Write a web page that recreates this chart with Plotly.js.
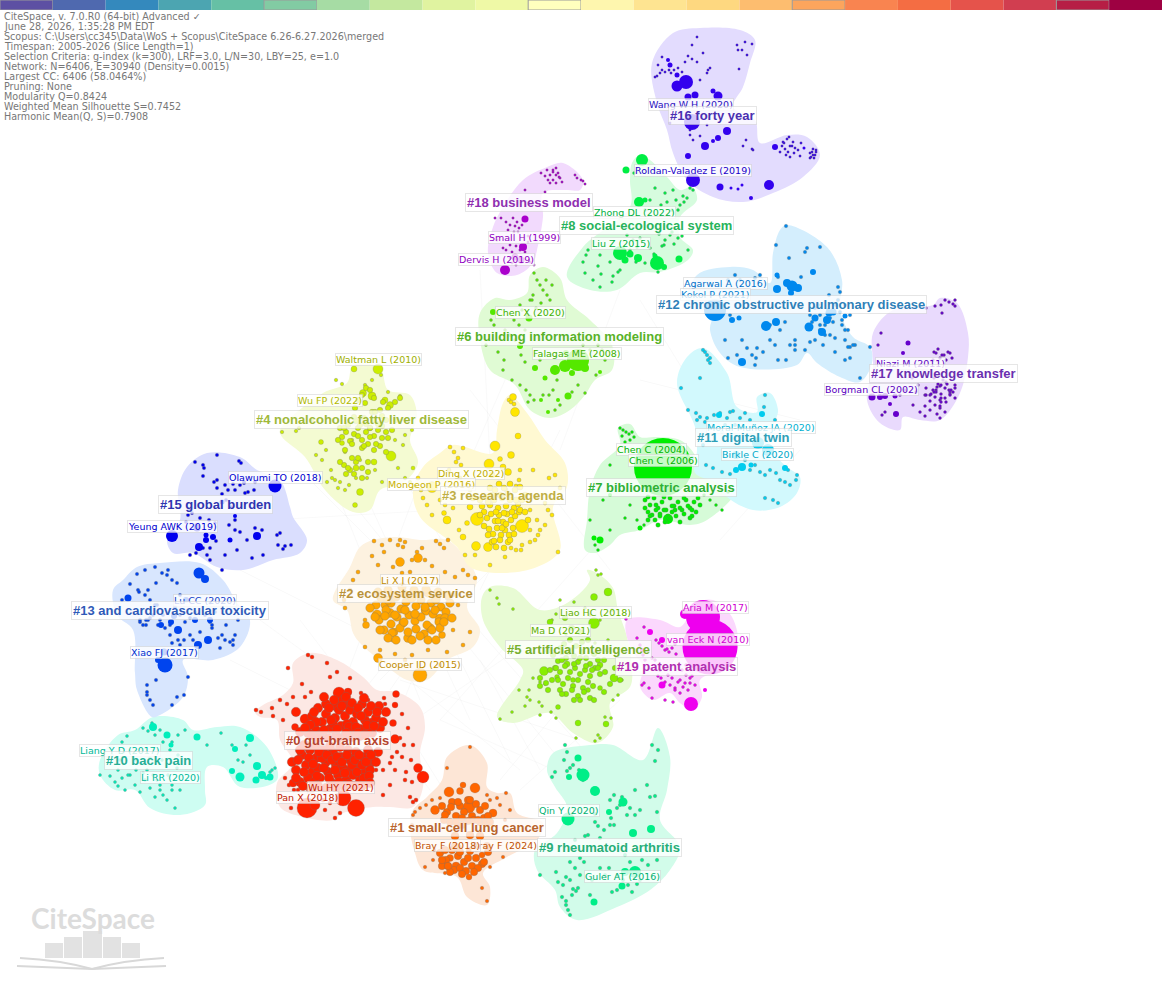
<!DOCTYPE html>
<html>
<head>
<meta charset="utf-8">
<script src="https://cdn.plot.ly/plotly-3.0.1.min.js"></script>
<style>html,body{margin:0;padding:0;background:#fff}</style>
</head>
<body>
<div id="chart" style="width:1162px;height:982px"></div>
<script>
const years = [2005,2006,2007,2008,2009,2010,2011,2012,2013,2014,2015,2016,2017,2018,2019,2020,2021,2022,2023,2024,2025,2026];
const yearColors = ['#5d50a3','#4f69af','#3489bd','#4ca5b1','#66c0a5','#82cba3','#a6dca4','#c4e89f','#e0f3a0','#eff9a6','#ffffbe','#fef6ae','#fee491','#fed880','#fdbd6f','#fca55d','#f98450','#f46d43','#e5534b','#d13e50','#b61e45','#9e0142'];
const markedYears = [2005,2010,2015,2020,2025];

const headerLines = [
  'CiteSpace, v. 7.0.R0 (64-bit) Advanced ✓',
  'June 28, 2026, 1:35:28 PM EDT',
  'Scopus: C:\\Users\\cc345\\Data\\WoS + Scopus\\CiteSpace 6.26-6.27.2026\\merged',
  'Timespan: 2005-2026 (Slice Length=1)',
  'Selection Criteria: g-index (k=300), LRF=3.0, L/N=30, LBY=25, e=1.0',
  'Network: N=6406, E=30940 (Density=0.0015)',
  'Largest CC: 6406 (58.0464%)',
  'Pruning: None',
  'Modularity Q=0.8424',
  'Weighted Mean Silhouette S=0.7452',
  'Harmonic Mean(Q, S)=0.7908'
];

// cluster labels
const clusterNames = ['#0 gut-brain axis','#1 small-cell lung cancer','#2 ecosystem service','#3 research agenda','#4 nonalcoholic fatty liver disease','#5 artificial intelligence','#6 building information modeling','#7 bibliometric analysis','#8 social-ecological system','#9 rheumatoid arthritis','#10 back pain','#11 digital twin','#12 chronic obstructive pulmonary disease','#13 and cardiovascular toxicity','#15 global burden','#16 forty year','#17 knowledge transfer','#18 business model','#19 patent analysis'];
const clusterLabelX = [337,467,406,503,361,578,559,661,646,609,148,743,791,170,215,712,943,529,676];
const clusterLabelY = [740,827,593,495,419,649,336,487,225,847,760,437,304,610,504,115,373,202,666];
const clusterTextColors = ['#b5452f','#b8642d','#b9923a','#bfae45','#9fb93a','#78b030','#58b228','#2fb035','#27b35c','#27ae78','#27ae96','#2f9fb8','#2f7fb8','#2f5ab8','#2f35b0','#4a2fb0','#6a2fb0','#8f2fb0','#b02fb0'];
const nodeColors = ['#ff2200','#ff6600','#ffa500','#ffe600','#ccee00','#88ee00','#55e800','#00ee00','#00ee44','#00ee88','#00eebb','#00ccee','#0088ee','#0044ee','#0000ee','#3300ee','#6600cc','#aa00cc','#ee00ee'];
const hullColors = ['#fce8e4','#fde6d6','#fdf2e0','#fff9d2','#f4fbd2','#e8fbd4','#e0fbd4','#d6fbd8','#d6fcde','#d2fcea','#cefdf2','#d2f9fd','#d4eefd','#d8e6fe','#dadefe','#e3dcfe','#e9dafd','#f2dafd','#fbd8fd'];

// reference labels on nodes
const refNames = ['Wang W H (2020)','Roldan-Valadez E (2019)','Zhong DL (2022)','Liu Z (2015)','Small H (1999)','Dervis H (2019)','Agarwal A (2016)','Kokol P (2021)','Chen X (2020)','Falagas ME (2008)','Waltman L (2010)','Wu FP (2022)','Ding X (2022)','Mongeon P (2016)','Olawumi TO (2018)','Yeung AWK (2019)','Lu CC (2020)','Li X J (2017)','Xiao FJ (2017)','Cooper ID (2015)','Liao HC (2018)','Ma D (2021)','Aria M (2017)','van Eck N (2010)','Chen C (2004)','Chen C (2006)','Moral-Muñoz JA (2020)','Birkle C (2020)','Niazi M (2011)','Borgman CL (2002)','Liang Y D (2017)','Li RR (2020)','Wu HY (2021)','Pan X (2018)','Bray F (2024)','Bray F (2018)','Qin Y (2020)','Guler AT (2016)'];
const refX = [691,693,634,621,524,496,725,715,530,577,378,330,471,431,275,172,205,410,164,420,595,560,715,708,651,663,761,757,910,871,120,170,341,307,504,447,569,622];
const refY = [104,170,212,243,237,259,283,294,312,353,359,400,473,484,477,526,600,580,652,664,612,630,607,639,449,460,427,454,363,389,750,777,787,797,845,845,810,876];
const refColors = ['#2a10c0','#1800c8','#00b040','#00b040','#9000c0','#9000c0','#0070c8','#0080d0','#40b000','#40b000','#a0b000','#b0b800','#c0ac00','#c8b000','#0000d0','#0000d0','#1040c8','#c08c00','#0030d0','#c08c00','#60b000','#60b000','#d000d0','#d000d0','#00b000','#00b000','#00b0d0','#00a8c8','#5a00c0','#5a00c0','#00b898','#00b898','#c02000','#c02000','#c05000','#c05000','#00b070','#00b070'];

// hull outlines
const h0x=[293,310,337,363,377,397,420,425,420,423,413,390,373,343,333,303,280,277,293,280,277,260,255,263,283,293];
const h0y=[663,653,660,677,690,692,707,727,753,787,807,807,807,813,820,817,807,783,763,740,720,717,712,705,695,683];
const h1x=[470,447,442,427,413,410,415,423,457,467,487,490,483,507,537,543,517,510,497,487,487];
const h1y=[745,757,780,797,810,827,853,870,877,897,905,887,873,857,840,823,813,793,793,787,763];
const h2x=[373,397,420,447,467,477,467,480,473,447,427,407,383,360,353,347,333,350,360];
const h2y=[540,537,540,540,560,580,607,630,647,660,680,680,663,643,633,610,600,567,547];
const h3x=[510,527,545,565,567,553,560,537,500,470,457,420,413,423,440,453,493,497,503];
const h3y=[395,413,440,463,487,507,550,567,573,567,547,517,490,467,453,445,453,430,403];
const h4x=[353,380,388,410,417,410,418,403,380,370,353,325,305,282,280,323,347];
const h4y=[365,368,390,395,417,440,463,483,490,510,512,490,457,437,430,393,383];
const h5x=[490,513,540,567,590,587,597,613,618,627,632,630,610,613,597,573,550,513,497,520,523,500,483,482];
const h5y=[587,588,610,603,580,570,573,588,610,637,667,687,703,727,743,733,713,723,717,680,670,647,620,597];
const h6x=[510,527,530,543,560,567,590,612,612,595,585,570,550,530,515,490,480,480,495];
const h6y=[300,293,275,267,278,300,320,345,370,380,395,410,418,410,385,370,340,313,298];
const h7x=[618,630,640,655,680,695,700,735,707,690,660,640,620,610,595,585,587,590,600,620];
const h7y=[428,424,437,437,440,455,470,490,520,525,520,530,535,545,553,550,520,490,465,445];
const h8x=[640,632,630,630,583,567,590,617,640,660,688,693,680,680,697,692,680,667,650];
const h8y=[155,163,180,207,247,277,290,290,273,272,260,250,237,217,200,187,190,177,160];
const h9x=[590,613,643,658,670,667,660,680,670,650,617,577,560,555,537,535,557,567,555,547,553];
const h9y=[745,745,760,728,757,790,820,847,870,890,907,920,907,890,870,850,833,807,787,770,753];
const h10x=[153,183,193,217,240,267,277,240,223,207,205,205,180,150,135,115,100,100,118,135];
const h10y=[717,720,730,727,727,747,780,787,767,767,790,805,815,808,790,790,775,760,735,730];
const h11x=[703,727,737,757,757,770,778,773,770,787,800,797,780,753,727,717,695,697,695,677,687];
const h11y=[348,373,407,412,397,393,410,427,447,467,477,493,507,510,497,483,473,450,427,383,357];
const h12x=[787,827,842,840,853,870,872,860,840,817,807,797,740,720,710,712,687,697,730,753,770,773,780];
const h12y=[225,247,280,310,337,347,363,382,377,363,353,365,367,353,330,313,307,275,267,270,283,253,230];
const h13x=[137,160,200,223,237,250,240,213,183,188,183,160,152,137,135,133,117,113,123];
const h13y=[567,563,563,580,603,620,647,660,660,677,697,715,717,690,673,630,615,590,580];
const h15x=[207,240,257,280,290,293,307,300,273,243,217,193,173,167,180,178,187];
const h15y=[453,457,470,480,507,517,540,553,560,570,567,553,553,540,520,490,467];
const h16x=[652,673,700,740,755,750,743,733,755,760,787,807,820,803,773,743,713,687,673,667,657];
const h16y=[63,33,28,30,40,63,87,107,120,143,135,137,155,177,193,202,197,180,153,130,103];
const h17x=[940,957,968,968,960,940,920,903,900,880,867,873,873,893,933];
const h17y=[298,303,333,357,393,420,420,417,430,423,400,367,333,310,305];
const h18x=[547,563,583,580,567,543,543,537,533,517,497,488,493,503,523];
const h18y=[167,163,180,190,190,193,217,250,263,275,273,253,227,207,180];
const h19x=[627,660,680,697,713,732,738,727,700,702,693,680,670,653,640,643,630];
const h19y=[620,620,627,603,600,617,647,667,680,697,710,703,693,700,687,667,647];

// nodes: big ones with their own size, dense ones, tiny ones
const c0x=[307,356,343,423,418,396,395,339,348,337,349,305,372,393,395,295,315,293,370,330,353];
const c0y=[808,808,798,777,768,694,705,693,692,705,704,719,723,723,739,727,805,783,763,756,758];
const c0s=[20,17,16,12,9,7,6,12,8,13,10,10,10,7,9,7,10,8,10,11,9];
const c0dx=[312,318,322,326,330,334,335,339,341,345,348,350,353,357,360,362,365,368,372,316,308,320,328,336,344,352,360,368,376,380,326,343,333,347,355,316,379,386,300,296,302,306,310,312,316,318,320,323,326,328,331,333,336,338,341,343,346,348,350,353,356,358,360,363,365,368,370,308,314,322,330,340,350,344,354,336,326,296,292,300,372,378,376,316,304,310,314,324,329,331,337,342,346,349,352,356,358,361,364,367,371,374,377,383,305,311,318,324,338,346,358,365,298,304,309,313,317,319,324,327,329,332,335,337,339,342,345,347,349,352,355,357,359,362,364,366,369,371,300,307,296,303,311,318,362,370];
const c0dy=[716,708,722,714,729,700,718,710,726,716,731,710,722,714,729,704,720,712,733,730,733,735,738,735,737,737,736,731,718,728,704,700,724,724,732,722,706,712,732,712,755,765,750,772,758,768,778,750,762,772,782,752,765,775,757,768,780,750,770,775,752,765,780,757,772,750,770,778,782,758,746,747,760,786,786,788,788,770,762,782,760,752,762,746,745,725,712,697,708,720,729,706,697,727,703,727,708,716,698,725,706,726,712,722,728,735,738,730,738,733,733,735,760,772,758,764,776,752,768,755,778,760,770,757,782,762,773,755,784,765,760,772,755,765,778,762,776,755,750,746,778,786,789,786,786,783];
const c0tx=[287,283,273,272,261,256,280,293,305,311,302,288,308,312,327,330,337,350,361,368,385,384,402,400,408,413,404,397,392,411,390,383,402,395,406,376,405,412,416,413,410,390,383,325,340,335,330,323,289,285,294,298,291];
const c0ty=[704,720,716,708,712,710,700,697,697,692,684,668,655,657,663,677,672,678,693,700,704,698,714,738,728,745,745,752,757,760,763,770,757,770,772,770,780,782,800,802,797,785,795,810,813,818,803,800,785,778,790,790,808];

const c1x=[449,475,463,460,469,435,493,456,469,482,450,470,480,455];
const c1y=[792,788,785,791,807,810,813,866,877,855,858,835,836,836];
const c1s=[10,10,6,7,12,9,8,8,6,6,7,8,8,8];
const c1dx=[442,447,452,456,460,464,468,472,476,480,484,488,444,450,456,462,468,474,480,486,490,440,446,452,458,464,470,476,482,488,442,448,454,460,466,472,478,484,450,462,474,458,445,451,458,462,470,478,485,442,448,460,468,476,487,445,455];
const c1dy=[806,812,802,816,806,812,800,816,804,810,818,816,820,822,822,818,821,820,822,822,822,853,860,850,856,862,851,858,864,852,866,866,870,868,871,866,868,862,872,874,872,848,815,807,802,825,800,820,806,860,866,852,858,848,846,850,846];
const c1tx=[470,447,487,506,413,415,482,487,425,433,490,503,517,445,460,420,426,432,505,510,500,497,490,440,434,412];
const c1ty=[747,768,795,793,815,812,888,901,867,860,867,857,843,873,870,808,805,800,820,810,805,798,800,798,850,825];

const c2x=[420,400,418,377,440,408,394,366,442,390,425,378,430,385];
const c2y=[675,562,558,615,619,638,632,625,635,613,610,658,628,605];
const c2s=[14,9,9,10,10,9,8,7,7,9,8,9,9,8];
const c2dx=[376,381,386,391,396,401,406,411,416,421,426,431,436,441,446,379,385,391,397,403,409,415,421,427,433,439,445,384,392,400,408,416,424,432,440,388,396,404,412,420,428,436,395,405,415,425,435,380,388,396,404,412,420,428,436,444,375,370,450,452,378,388,402,414,426,438,448];
const c2dy=[605,598,610,603,597,609,602,596,606,600,611,603,597,607,612,620,616,624,617,623,615,621,617,625,614,622,618,630,633,628,632,629,634,630,628,600,595,594,598,595,593,600,615,610,614,607,610,630,638,640,622,640,636,640,640,622,617,608,603,618,592,590,587,590,589,592,595];
const c2tx=[374,382,390,400,405,398,403,412,417,422,436,440,444,448,372,378,384,393,402,410,425,432,445,455,463,468,475,353,358,345,350,344,365,453,458,470,463,447,453,365,380,392,405,440,447,395,412,428];
const c2ty=[541,545,540,540,542,545,547,560,552,548,541,544,548,540,556,565,552,567,573,572,560,566,572,577,570,575,578,580,572,608,590,600,620,595,605,632,645,598,630,647,650,640,660,665,652,654,655,650];

const c3x=[477,522,515,513,495,511,518,489,488,476,447,432,463,467,508,444,503,492,500];
const c3y=[519,526,412,397,446,455,436,464,547,546,520,487,537,523,472,513,467,475,459];
const c3s=[13,13,9,7,10,7,6,10,9,9,8,11,6,5,7,5,6,6,5];
const c3dx=[486,490,494,498,502,506,510,514,518,487,491,495,499,503,507,511,515,519,489,493,497,501,505,509,513,492,496,500,504,508,470,473,480,484,490,495,499,504,510,515,520,525,488,492,496,500,504,508,512,516,520,488,494,498,502,506,510,514,480,484,482,522,525,528];
const c3dy=[497,505,500,508,498,506,500,508,504,518,514,521,515,522,514,520,516,512,529,534,528,535,530,535,528,542,547,540,548,542,507,498,500,512,488,490,484,488,484,490,487,495,502,495,512,495,513,494,512,500,510,535,541,521,528,524,540,534,515,526,506,500,512,520];
const c3tx=[509,511,514,523,519,516,520,533,549,555,560,536,545,530,537,552,418,421,423,427,432,450,454,458,461,463,456,449,460,440,445,470,453,459,465,475,490,505,511,516,522,530,535,540,545,558,538,548,530,521,506];
const c3ty=[400,402,404,498,480,486,470,470,478,475,488,497,503,510,520,515,478,490,498,505,515,447,452,458,465,448,462,470,478,500,505,490,508,530,555,555,565,557,548,550,545,530,540,530,525,552,535,510,542,550,490];

const c4x=[378,354,372,363,391,390,360,355,374,413,321,385,342,356];
const c4y=[369,369,396,393,456,405,492,505,462,468,442,400,443,468];
const c4s=[10,6,8,7,10,7,7,5,6,4,5,6,5,6];
const c4dx=[342,346,350,354,358,362,366,370,374,378,382,386,366,370,374,378,382,386,362,368,374,380,386,344,350,356,362,368,346,352,358,340,348,356,364,372,380,388,395,400,355,358,362,366,370,374,338,344,352,358,364,370,376,382,388,392,396,360,354,375,383,365,340,348,354,362,368,345];
const c4dy=[437,432,441,434,428,440,432,428,436,430,438,432,424,428,420,424,416,420,448,444,450,446,452,465,470,462,468,472,474,458,458,428,425,421,418,412,410,408,402,398,408,400,395,388,390,398,440,428,444,436,446,437,444,426,438,430,420,425,417,412,402,403,462,468,474,478,462,450];
const c4tx=[282,296,299,312,316,322,326,331,335,340,345,349,356,360,367,375,382,398,405,410,415,395,403,327,332,338,345,352,336,342,365,372,381,388,400,405,412];
const c4ty=[432,431,428,420,455,460,450,470,480,482,490,485,478,460,478,470,482,468,478,482,486,440,445,482,478,488,452,440,380,384,385,380,375,392,396,435,430];

const c5x=[594,608,594,544,614,550,578,606,558,557,573,567,600,588,600,548,560];
const c5y=[623,592,597,671,678,622,723,724,707,677,680,664,665,690,688,651,648];
const c5s=[11,8,7,9,8,6,6,6,5,5,5,6,6,5,5,5,5];
const c5dx=[553,558,562,566,570,574,578,582,586,590,594,598,555,560,565,570,575,580,585,590,595,600,558,563,568,573,578,583,588,593,560,566,572,578,584,590,564,570,576,582,552,546,540,605,610,615,620,565,572,580,588,556,562,568,574,580,586,592,598,604,608,550,548,540,562,574,580,594,604];
const c5dy=[655,661,652,658,650,656,662,652,658,664,654,660,668,672,666,672,668,674,670,676,668,674,680,684,678,686,680,688,682,686,690,694,690,696,692,698,644,640,646,642,680,683,686,672,684,668,680,618,628,632,640,668,660,652,664,658,666,670,668,660,650,670,690,678,694,700,700,700,692];
const c5tx=[490,497,499,513,519,527,530,539,542,525,529,540,551,556,512,500,540,533,545,576,595,598,600,605,611,613,618,622,596,598,601,608,570,566,556,552,560,574,585,590,595,600,612];
const c5ty=[590,598,604,609,690,697,700,702,706,706,690,715,712,718,712,719,682,678,684,738,741,735,738,717,718,700,695,680,570,575,574,640,627,634,614,620,600,602,608,615,643,620,610];

const c6x=[578,568,535,520,493,529,565,555,585,600,541,548,545,572,558,566];
const c6y=[360,396,368,346,312,318,366,370,368,372,400,412,378,373,400,353];
const c6s=[22,7,6,6,6,7,12,10,8,4,4,4,5,6,4,6];
const c6tx=[534,537,540,543,547,550,533,530,541,546,552,520,522,527,532,536,514,519,525,505,510,515,494,491,498,504,486,512,520,543,549,553,557,526,530,534,528,605,602,598,590,583,578,572,585,596,555,560,540,525,521,503];
const c6ty=[273,280,285,290,295,300,295,300,303,280,285,305,310,315,300,308,320,325,330,330,335,340,325,320,352,360,345,380,385,395,395,390,380,390,395,400,402,360,350,345,350,345,385,392,393,375,410,405,360,362,355,370];

const c7x=[663,600,668,594,640,610];
const c7y=[467,540,519,538,528,495];
const c7s=[58,7,10,5,5,4];
const c7dx=[645,650,654,658,662,666,670,674,678,682,686,690,694,698,648,652,656,660,664,668,672,676,680,684,688,692,655,660,665,670,675,680,690,700,645,650,648,656,664,672,684,692,696,658,648];
const c7dy=[500,505,498,508,502,510,498,506,502,510,500,508,502,498,512,515,510,514,510,516,512,516,508,514,506,510,520,516,522,518,510,522,518,505,508,516,497,505,497,506,498,516,512,525,520];
const c7tx=[620,623,626,629,632,622,634,630,625,610,603,590,595,598,610,625,644,637,630,704,710,716,722,728];
const c7ty=[428,430,432,434,432,436,437,440,442,465,500,520,545,550,530,518,525,520,505,495,500,505,510,492];

const c8x=[642,639,626,620,657,638,625,679,664,630,655,645];
const c8y=[160,202,170,253,263,258,260,259,267,254,256,200];
const c8s=[12,10,7,14,14,8,7,7,6,7,5,5];
const c8tx=[634,655,665,673,650,645,661,667,676,680,678,672,683,687,684,693,690,665,670,678,682,672,659,664,674,637,650,654,645,618,610,600,586,585,593,601,613,588,598,583,600,612,620,630,640,627,633,636,658,662,688];
const c8ty=[173,188,193,190,200,210,205,202,200,205,210,210,196,198,202,190,188,240,235,238,236,232,234,245,244,247,248,254,263,272,262,255,255,273,280,274,276,250,266,262,287,282,270,250,238,235,240,262,272,246,250];

const c9x=[583,595,568,635,633,623,609,651,622,594,569,578,625];
const c9y=[775,791,819,872,833,802,812,829,886,902,777,758,872];
const c9s=[13,10,13,12,8,9,6,8,7,7,6,7,8];
const c9tx=[565,567,564,570,567,573,555,552,579,655,658,652,647,650,595,610,620,627,611,617,614,622,630,635,640,635,614,600,604,610,595,588,575,585,598,580,570,575,556,540,558,563,566,570,573,578,580,584,562,590,566,568,572,576,605,612,617,623,628,632,637,640,642,657,648,630,625,609,618,655,657,583,592,600,566,570];
const c9ty=[745,752,760,768,771,765,772,777,770,761,750,745,785,797,814,800,805,815,818,808,795,797,808,790,810,815,825,838,830,825,822,835,840,836,826,858,862,868,872,875,882,885,877,880,889,888,875,862,897,895,901,910,895,891,875,892,890,880,885,892,884,880,860,860,865,862,855,868,876,796,812,780,880,868,905,915];

const c10x=[153,167,171,197,250,235,257,262,270,256,240,232,266];
const c10y=[727,735,745,737,738,749,766,775,777,780,777,771,778];
const c10s=[8,7,5,7,8,6,8,8,7,7,9,6,4];
const c10tx=[122,127,130,143,148,152,155,160,163,168,172,178,185,207,221,232,238,246,243,250,258,272,270,275,100,110,115,118,122,125,130,135,140,145,150,155,160,143,147,153,157,160,163,168,172,177,180,112,120,128,135,150,162,170,178,167,172,175,118,136];
const c10ty=[742,736,752,728,731,723,735,730,742,735,742,735,730,745,733,745,760,745,762,755,765,770,772,768,775,776,782,786,778,790,775,785,792,780,788,797,790,773,770,775,780,785,795,775,785,768,790,755,760,775,760,758,760,750,755,800,790,808,770,770];

const c11x=[719,762,742,736,785,736,751,758,768];
const c11y=[415,414,467,470,468,455,465,443,450];
const c11s=[6,6,8,6,6,8,5,12,12];
const c11tx=[703,705,707,710,708,710,700,681,688,696,700,707,714,720,727,730,733,740,745,750,765,775,764,735,725,697,705,710,722,740,745,750,755,760,765,770,776,780,785,790,797,796,788,765,773,778,702,703,692,706,713,722,730];
const c11ty=[350,352,355,358,360,363,378,388,410,413,417,418,415,413,418,412,411,418,413,420,395,420,407,425,425,420,422,428,432,467,460,470,465,472,475,470,473,480,482,485,475,480,470,498,500,503,435,445,458,465,468,472,474];

const c12x=[715,766,776,792,798,777,809,742,813,827,822,732,739,791,777,833,815,787,829,845];
const c12y=[310,326,322,286,288,289,327,362,272,320,332,320,318,293,275,312,318,283,313,316];
const c12s=[22,10,8,11,8,8,9,8,6,8,8,6,5,6,5,7,7,8,7,5];
const c12tx=[786,776,789,807,820,805,778,801,838,840,838,829,728,735,740,755,760,730,742,747,770,775,778,763,770,780,785,790,795,805,823,835,830,845,850,855,845,853,870,850,848,795,786,757,725,737,755,752,728,756,795,860,810,835,848,842,825,820,815,812,810,820,830,840,836,845,828,842,845,820,815,850,833,825,818];
const c12ty=[226,245,258,248,247,252,277,277,287,292,300,295,280,275,280,278,275,315,340,348,325,345,360,352,340,330,322,345,350,350,345,352,335,340,347,345,360,345,347,358,347,340,360,348,340,355,365,355,358,358,345,378,342,338,330,325,335,315,308,322,315,325,318,312,305,305,310,320,330,330,340,315,322,325,305];

const c13x=[199,205,165,164,158,186,178,128,161,171,195,174,210,198,208];
const c13y=[573,579,665,652,660,600,630,598,625,622,620,616,620,645,640];
const c13s=[11,8,15,7,6,6,8,7,6,6,6,6,6,8,8];
const c13tx=[137,145,155,162,168,167,172,177,130,138,150,156,157,148,139,145,122,153,160,163,170,180,140,148,146,185,190,195,205,210,212,222,230,233,220,225,235,238,140,143,146,150,158,165,170,178,184,190,172,180,193,200,212,218,226,233,147,147,156,147,150,153,172,184,177,188,215,180,210,175,155];
const c13ty=[574,570,567,573,570,575,580,583,584,590,600,583,605,590,592,595,600,615,620,615,625,615,622,620,625,622,618,612,615,622,628,635,642,645,648,640,635,620,620,625,620,618,625,628,635,640,640,635,643,645,640,632,625,638,625,640,685,692,680,695,700,705,705,695,697,677,612,595,603,607,605];

const c15x=[275,172,197,257,199,206,222,206,213,230,235];
const c15y=[486,536,528,536,547,540,502,535,537,540,516];
const c15s=[13,12,7,8,8,6,5,5,6,5,4];
const c15tx=[217,195,203,204,239,241,203,217,222,228,225,233,235,240,244,245,248,254,255,226,244,214,217,190,186,188,192,196,200,209,215,229,235,240,247,255,262,280,283,291,285,277,278,263,252,235,210,216,203,207,190,196,210,222,225,237,231];
const c15ty=[455,462,465,468,461,463,476,488,494,490,485,484,490,485,482,493,492,490,482,500,483,482,480,510,522,515,513,525,518,520,523,525,520,532,540,528,530,533,549,545,546,535,545,555,558,530,548,541,548,555,555,553,560,570,555,550,507];

const c16x=[686,677,688,695,718,713,692,727,718,705,713,688,775,769,720,693,742,738,731,751,804,668,670,677];
const c16y=[82,86,97,95,96,91,122,131,138,146,141,156,147,185,187,180,185,189,188,198,148,60,65,75];
const c16s=[14,11,7,7,9,5,16,8,6,8,4,6,6,10,7,14,3,3,3,4,3,4,5,5];
const c16tx=[660,657,662,665,655,658,671,674,682,669,685,678,662,697,692,688,703,692,697,707,700,737,745,752,738,742,747,739,708,710,690,670,690,707,693,700,743,753,787,784,790,793,785,782,795,788,786,790,780,798,801,789,792,794,783,800,813,812,815,810,811,814,816,813,810,816,746,752];
const c16ty=[73,76,70,72,77,65,73,70,72,70,62,68,57,37,45,56,53,59,62,73,80,45,42,44,50,50,55,69,70,68,135,123,130,125,140,136,146,150,139,143,146,142,149,146,148,152,155,157,152,150,143,137,146,153,142,156,155,152,155,153,157,158,152,149,158,150,140,149];

const c17x=[908,896,885,895,880,903,872,890];
const c17y=[343,414,396,396,397,353,397,404];
const c17s=[5,6,6,5,6,4,7,4];
const c17tx=[945,949,953,941,935,942,926,955,955,881,878,910,918,916,925,933,936,940,944,948,952,934,938,942,946,950,933,941,949,955,940,945,950,955,930,935,940,945,950,955,941,946,936,931,936,941,946,951,926,934,938,943,947,950,953,926,930,934,937,941,913,920,925,930,935,937,940,945,940,905,912,885,882,900,925,940];
const c17ty=[300,302,304,305,306,313,308,300,306,333,345,375,385,392,395,360,353,358,355,352,358,352,349,355,360,353,390,394,390,385,386,388,392,388,395,397,400,398,394,398,402,402,390,394,392,398,382,390,388,378,384,380,384,395,392,395,401,392,387,385,405,412,416,410,405,414,418,412,408,390,378,412,415,395,406,406];

const c18x=[525,505,523,515,521];
const c18y=[219,270,247,257,260];
const c18s=[7,10,8,7,7];
const c18tx=[541,547,550,553,556,558,560,548,545,553,556,559,550,553,556,562,575,577,581,585,583,525,545,495,501,506,510,513,515,517,519,522,508,514,518,510,506,512,516,520,497,503,510,512,516,525,530,534,528,528];
const c18ty=[173,170,175,172,168,173,178,180,176,180,183,177,183,170,175,182,175,178,180,184,181,190,192,218,218,222,225,218,226,222,228,225,230,232,232,245,250,252,246,250,240,248,258,263,265,252,262,265,236,242];

const c19x=[703,710,691,650,662,662,685,642,705];
const c19y=[617,647,704,632,640,685,614,650,690];
const c19s=[34,55,14,6,6,7,10,4,4];
const c19tx=[626,644,637,640,643,645,656,659,662,665,669,672,675,676,667,652,655,661,665,670,675,680,685,690,695,668,672,678,683,688,692,675,680,686,690,642,649,658,652,644,682,686,700,665,673,660];
const c19ty=[619,627,638,645,655,660,640,643,646,650,652,648,644,654,649,658,660,678,682,685,688,680,683,678,685,675,678,682,687,690,676,690,693,675,683,685,688,676,698,683,670,665,670,700,702,670];

// faint citation links across the map
const linkX=[320,420,null,340,470,null,300,470,null,350,560,null,400,610,null,460,380,null,560,400,null,430,510,null,600,440,null,360,520,null,300,430,null,420,330,null,500,340,null,560,480,null,470,610,null,240,400,null,260,370,null,230,350,null,400,580,null,440,600,null,480,390,null,600,500,null,520,380,null,620,520,null,480,540,null,400,450,null,620,560,null,480,490,null,540,470,null,640,720,null,640,800,null,720,800,null,270,440,null,380,460];
const linkY=[450,700,null,440,720,null,470,640,null,500,760,null,540,780,null,560,760,null,620,730,null,600,760,null,540,720,null,640,770,null,620,790,null,480,720,null,520,720,null,430,590,null,390,570,null,570,650,null,620,700,null,660,720,null,680,740,null,720,790,null,560,690,null,660,780,null,540,680,null,700,790,null,660,770,null,720,800,null,290,450,null,270,460,null,300,460,null,300,430,null,380,420,null,540,450,null,520,510,null,440,570];

const clusters = [
  {hx:h0x,hy:h0y,x:c0x,y:c0y,s:c0s,dx:c0dx,dy:c0dy,tx:c0tx,ty:c0ty,ds:9.5,ts:4},
  {hx:h1x,hy:h1y,x:c1x,y:c1y,s:c1s,dx:c1dx,dy:c1dy,tx:c1tx,ty:c1ty,ds:7.5,ts:3.5},
  {hx:h2x,hy:h2y,x:c2x,y:c2y,s:c2s,dx:c2dx,dy:c2dy,tx:c2tx,ty:c2ty,ds:8.5,ts:4},
  {hx:h3x,hy:h3y,x:c3x,y:c3y,s:c3s,dx:c3dx,dy:c3dy,tx:c3tx,ty:c3ty,ds:6,ts:4},
  {hx:h4x,hy:h4y,x:c4x,y:c4y,s:c4s,dx:c4dx,dy:c4dy,tx:c4tx,ty:c4ty,ds:5.5,ts:3.5},
  {hx:h5x,hy:h5y,x:c5x,y:c5y,s:c5s,dx:c5dx,dy:c5dy,tx:c5tx,ty:c5ty,ds:5.5,ts:3},
  {hx:h6x,hy:h6y,x:c6x,y:c6y,s:c6s,dx:[],dy:[],tx:c6tx,ty:c6ty,ds:4,ts:3},
  {hx:h7x,hy:h7y,x:c7x,y:c7y,s:c7s,dx:c7dx,dy:c7dy,tx:c7tx,ty:c7ty,ds:4.5,ts:3},
  {hx:h8x,hy:h8y,x:c8x,y:c8y,s:c8s,dx:[],dy:[],tx:c8tx,ty:c8ty,ds:4,ts:3},
  {hx:h9x,hy:h9y,x:c9x,y:c9y,s:c9s,dx:[],dy:[],tx:c9tx,ty:c9ty,ds:4,ts:3.5},
  {hx:h10x,hy:h10y,x:c10x,y:c10y,s:c10s,dx:[],dy:[],tx:c10tx,ty:c10ty,ds:4,ts:3},
  {hx:h11x,hy:h11y,x:c11x,y:c11y,s:c11s,dx:[],dy:[],tx:c11tx,ty:c11ty,ds:4,ts:3.5},
  {hx:h12x,hy:h12y,x:c12x,y:c12y,s:c12s,dx:[],dy:[],tx:c12tx,ty:c12ty,ds:4,ts:3.5},
  {hx:h13x,hy:h13y,x:c13x,y:c13y,s:c13s,dx:[],dy:[],tx:c13tx,ty:c13ty,ds:4,ts:3.5},
  {hx:h15x,hy:h15y,x:c15x,y:c15y,s:c15s,dx:[],dy:[],tx:c15tx,ty:c15ty,ds:4,ts:3.5},
  {hx:h16x,hy:h16y,x:c16x,y:c16y,s:c16s,dx:[],dy:[],tx:c16tx,ty:c16ty,ds:4,ts:2.5},
  {hx:h17x,hy:h17y,x:c17x,y:c17y,s:c17s,dx:[],dy:[],tx:c17tx,ty:c17ty,ds:4,ts:3},
  {hx:h18x,hy:h18y,x:c18x,y:c18y,s:c18s,dx:[],dy:[],tx:c18tx,ty:c18ty,ds:4,ts:2.5},
  {hx:h19x,hy:h19y,x:c19x,y:c19y,s:c19s,dx:[],dy:[],tx:c19tx,ty:c19ty,ds:4,ts:3}
];

const traces = [];

traces.push({
  x: linkX, y: linkY, type: 'scatter', mode: 'lines',
  line: { color: 'rgba(190,190,190,0.09)', width: 1 }, hoverinfo: 'skip'
});

clusters.forEach((c, i) => {
  traces.push({
    x: c.hx.concat(c.hx[0]), y: c.hy.concat(c.hy[0]),
    type: 'scatter', mode: 'lines', fill: 'toself',
    fillcolor: hullColors[i],
    line: { width: 0, shape: 'spline', smoothing: 1, color: hullColors[i] },
    hoverinfo: 'skip'
  });
});

clusters.forEach((c, i) => {
  const outline = { color: 'rgba(110,110,110,0.6)', width: 0.5 };
  const bigLine = { color: i <= 5 ? 'rgba(120,120,120,0.5)' : nodeColors[i], width: i <= 5 ? 0.5 : 0 };
  // tiny first, big ones stay on top of the dense mass
  traces.push({
    x: c.tx, y: c.ty, type: 'scatter', mode: 'markers',
    marker: { color: nodeColors[i], size: c.ts, opacity: 1, line: outline }, hoverinfo: 'skip'
  });
  traces.push({
    x: c.x, y: c.y, type: 'scatter', mode: 'markers',
    marker: { color: nodeColors[i], size: c.s, opacity: 1, line: bigLine }, hoverinfo: 'skip'
  });
  traces.push({
    x: c.dx, y: c.dy, type: 'scatter', mode: 'markers',
    marker: { color: nodeColors[i], size: c.ds, opacity: 1, line: outline }, hoverinfo: 'skip'
  });
});

// year strip along the top
traces.push({
  x: years, y: years.map(() => 1), type: 'bar', xaxis: 'x2', yaxis: 'y2',
  marker: {
    color: yearColors,
    line: {
      color: years.map(y => markedYears.includes(y) ? '#999999' : 'rgba(0,0,0,0)'),
      width: 1
    }
  },
  hoverinfo: 'skip'
});

const annotations = [];

refNames.forEach((name, i) => {
  annotations.push({
    x: refX[i], y: refY[i], text: name, showarrow: false,
    font: { family: 'DejaVu Sans', size: 9.5, color: refColors[i] },
    bgcolor: 'rgba(255,255,255,0.78)',
    bordercolor: 'rgba(200,200,200,0.45)', borderwidth: 1, borderpad: 0
  });
});

clusterNames.forEach((name, i) => {
  annotations.push({
    x: clusterLabelX[i], y: clusterLabelY[i], text: '<b>' + name + '</b>', showarrow: false,
    font: { family: 'Liberation Sans', size: 13, color: clusterTextColors[i] },
    bgcolor: 'rgba(255,255,255,0.78)',
    bordercolor: 'rgba(200,200,200,0.45)', borderwidth: 1, borderpad: 1
  });
});

headerLines.forEach((line, i) => {
  annotations.push({
    x: 2, y: 16.5 + i * 10, text: line, showarrow: false, xanchor: 'left',
    font: { family: 'DejaVu Sans', size: 9.6, color: '#777777' }
  });
});

annotations.push({
  x: 93, y: 918, text: '<b>CiteSpace</b>', showarrow: false,
  font: { family: 'Lato', size: 28, color: '#dcdcdc' }
});

// logo: columns and the open book
const logoShapes = [];
[[45,63,943],[64,82,937],[83,102,931],[103,121,937],[122,140,943]].forEach(b => {
  logoShapes.push({ type: 'rect', x0: b[0], x1: b[1], y0: b[2], y1: 958, line: { width: 0 }, fillcolor: '#e2e2e2', layer: 'below' });
});
logoShapes.push({ type: 'path', path: 'M20,958 Q60,960 92,969 Q125,960 164,958', line: { color: '#d8d8d8', width: 2 }, layer: 'below' });
logoShapes.push({ type: 'path', path: 'M17,966 L92,969 L166,966', line: { color: '#d8d8d8', width: 2 }, layer: 'below' });

const layout = {
  width: 1162, height: 982,
  margin: { l: 0, r: 0, t: 0, b: 0 },
  paper_bgcolor: '#ffffff', plot_bgcolor: '#ffffff',
  showlegend: false, bargap: 0,
  xaxis: { range: [0, 1162], visible: false, fixedrange: true },
  yaxis: { range: [982, 0], visible: false, fixedrange: true },
  xaxis2: { range: [2004.5, 2026.5], visible: false, domain: [0, 1], anchor: 'y2', overlaying: 'x' },
  yaxis2: { range: [0, 1], visible: false, domain: [0.9898, 1], anchor: 'x2' },
  annotations: annotations,
  shapes: logoShapes
};

Plotly.newPlot('chart', traces, layout, { displayModeBar: false, staticPlot: true });
</script>
</body>
</html>
